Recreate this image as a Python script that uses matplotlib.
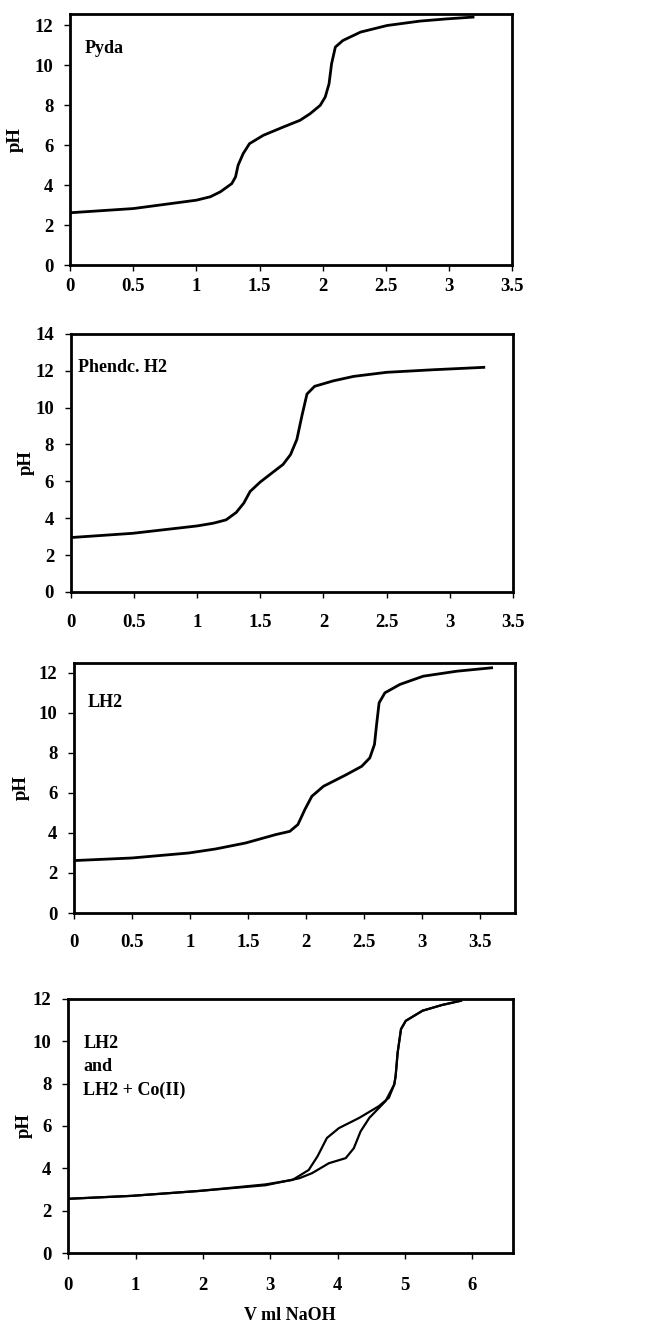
"""
Titration curves (pH vs V ml NaOH) - four stacked panels.
"""
import matplotlib
matplotlib.use("Agg")
import matplotlib.pyplot as plt

plt.rcParams['font.family'] = ['Liberation Serif', 'DejaVu Serif']
plt.rcParams['font.weight'] = 'bold'

# Panel 1: Pyda
pyda_v = [0.0, 0.5, 1.0, 1.11, 1.19, 1.28, 1.31, 1.33, 1.37, 1.42, 1.53, 1.69, 1.82,
          1.90, 1.98, 2.02, 2.05, 2.07, 2.10, 2.16, 2.30, 2.51, 2.77, 2.98, 3.19]
pyda_ph = [2.62, 2.83, 3.25, 3.42, 3.67, 4.08, 4.42, 5.0, 5.58, 6.08, 6.5, 6.92, 7.25,
           7.58, 8.0, 8.42, 9.08, 10.08, 10.92, 11.25, 11.67, 12.0, 12.22, 12.33, 12.42]

# Panel 2: Phendc. H2
phen_v = [0.0, 0.49, 1.0, 1.13, 1.23, 1.31, 1.37, 1.42, 1.50, 1.60, 1.68, 1.74, 1.79,
          1.83, 1.87, 1.93, 2.08, 2.24, 2.50, 2.87, 3.27]
phen_ph = [2.95, 3.18, 3.58, 3.73, 3.91, 4.31, 4.82, 5.45, 5.96, 6.49, 6.91, 7.45, 8.27,
           9.55, 10.73, 11.15, 11.45, 11.69, 11.91, 12.05, 12.18]

# Panel 3: LH2
lh2_v = [0.0, 0.5, 0.99, 1.22, 1.48, 1.74, 1.86, 1.93, 1.99, 2.05, 2.15, 2.35, 2.48,
         2.55, 2.59, 2.61, 2.63, 2.68, 2.81, 3.01, 3.30, 3.60]
lh2_ph = [2.62, 2.75, 3.0, 3.2, 3.5, 3.92, 4.08, 4.42, 5.17, 5.83, 6.33, 6.92, 7.33,
          7.75, 8.42, 9.5, 10.5, 11.0, 11.42, 11.83, 12.08, 12.25]

# Panel 4: LH2 and LH2 + Co(II)
ligand_v = [0.0, 0.95, 1.94, 2.93, 3.33, 3.57, 3.70, 3.84, 4.02, 4.32, 4.61, 4.76, 4.84,
            4.86, 4.89, 4.94, 5.01, 5.26, 5.55, 5.83]
ligand_ph = [2.56, 2.70, 2.93, 3.24, 3.45, 3.92, 4.56, 5.43, 5.90, 6.38, 6.93, 7.33, 7.96,
             8.35, 9.46, 10.57, 10.96, 11.44, 11.71, 11.91]
complex_v = [0.0, 0.95, 1.94, 2.93, 3.43, 3.62, 3.87, 4.12, 4.24, 4.34, 4.47, 4.71, 4.84,
             4.86, 4.89, 4.94, 5.01, 5.26, 5.55, 5.83]
complex_ph = [2.56, 2.70, 2.93, 3.20, 3.53, 3.77, 4.24, 4.48, 4.95, 5.74, 6.38, 7.17, 7.96,
              8.35, 9.46, 10.57, 10.96, 11.44, 11.71, 11.91]

fig = plt.figure(figsize=(6.55, 13.24), dpi=100)

panels = [
    # rect, xlim, xticks, ylim, yticks, label, label pos, ylabel x, x pad
    ([0.107, 0.7998, 0.675, 0.190], (0, 3.5), [0, 0.5, 1, 1.5, 2, 2.5, 3, 3.5],
     (0, 12.6), range(0, 13, 2), "Pyda", (0.034, 0.86), -0.104, 5),
    ([0.108, 0.5529, 0.675, 0.195], (0, 3.5), [0, 0.5, 1, 1.5, 2, 2.5, 3, 3.5],
     (0, 14), range(0, 15, 2), "Phendc. H2", (0.016, 0.868), -0.081, 12),
    ([0.113, 0.3104, 0.673, 0.189], (0, 3.8), [0, 0.5, 1, 1.5, 2, 2.5, 3, 3.5],
     (0, 12.5), range(0, 13, 2), "LH2", (0.03, 0.84), -0.10, 11),
    ([0.104, 0.0536, 0.679, 0.192], (0, 6.6), [0, 1, 2, 3, 4, 5, 6],
     (0, 12), range(0, 13, 2), "LH2\nand\nLH2 + Co(II)", (0.034, 0.732), -0.079, 13),
]

curves = [
    [(pyda_v, pyda_ph)],
    [(phen_v, phen_ph)],
    [(lh2_v, lh2_ph)],
    [(ligand_v, ligand_ph), (complex_v, complex_ph)],
]

for (rect, xlim, xticks, ylim, yticks, label, lpos, ylab_x, xpad), series in zip(panels, curves):
    ax = fig.add_axes(rect)
    lw = 2.0 if len(series) == 1 else 1.6
    for v, ph in series:
        ax.plot(v, ph, color='black', linewidth=lw, solid_joinstyle='round')
    ax.set_xlim(*xlim)
    ax.set_ylim(*ylim)
    ax.set_xticks(xticks)
    ax.set_xticklabels([f'{t:g}' for t in xticks])
    ax.set_yticks(list(yticks))
    for s in ax.spines.values():
        s.set_linewidth(2.0)
    ax.tick_params(axis='x', length=4, width=1, pad=xpad, labelsize=13.5)
    ax.tick_params(axis='y', length=4, width=1, pad=8, labelsize=13.5)
    ax.set_ylabel('pH', fontsize=13.5, fontweight='bold')
    ax.yaxis.set_label_coords(ylab_x, 0.5)
    ax.text(lpos[0], lpos[1], label, transform=ax.transAxes, fontsize=13,
            fontweight='bold', ha='left', va='center', linespacing=1.5)

fig.text(290 / 655, 1 - 1315 / 1324, 'V ml NaOH', ha='center', va='center',
         fontsize=13, fontweight='bold')

fig.savefig('out.png', dpi=100)
